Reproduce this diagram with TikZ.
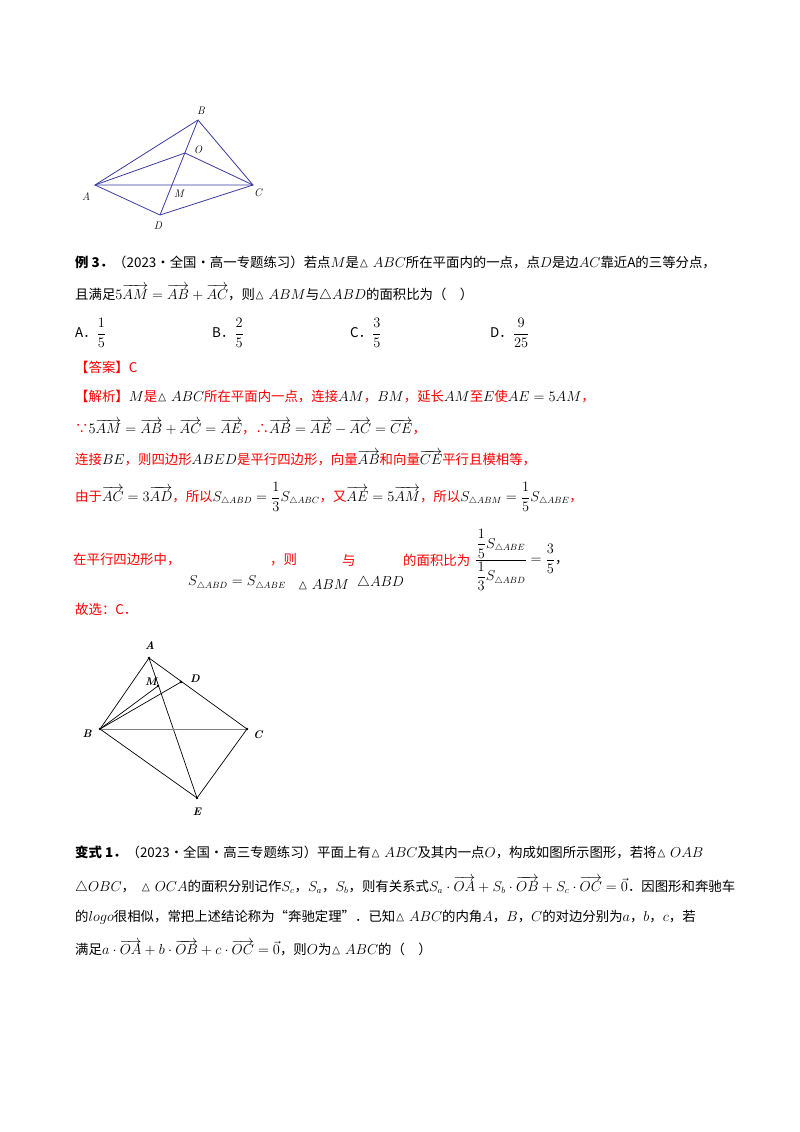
\documentclass[tikz,border=0pt]{standalone}
\usepackage{fontspec}
\usepackage{amsmath,amssymb}
\newfontfamily\cjk{Noto Sans CJK SC}
\definecolor{fig}{HTML}{3A3AA0}
\definecolor{ans}{HTML}{FF0000}
\tikzset{ln/.style={anchor=west,inner sep=0pt,font=\cjk\fontsize{13.4}{15}\selectfont},
 lbl/.style={font=\itshape\fontsize{11}{12}\selectfont,inner sep=0pt},
 blbl/.style={font=\bfseries\itshape\fontsize{11}{12}\selectfont,inner sep=0pt},
 red/.style={text=ans}}
\begin{document}
\begin{tikzpicture}[x=1pt,y=-1pt]
\useasboundingbox[fill=white] (0,0) rectangle (800,1132);
% figure 1
\begin{scope}[draw=fig,line width=0.8pt]
\coordinate (A) at (95,185); \coordinate (B) at (198,120); \coordinate (C) at (253,185);
\coordinate (O) at (185,153); \coordinate (M) at (172,185); \coordinate (D) at (160,215);
\draw (A)--(B)--(C)--cycle; \draw (A)--(O)--(C); \draw (B)--(D); \draw (A)--(D)--(C);
\end{scope}
\node[lbl] at (201,111) {B}; \node[lbl] at (198,150) {O}; \node[lbl] at (86,197) {A};
\node[lbl] at (179,194) {M}; \node[lbl] at (258,193) {C}; \node[lbl] at (158,226) {D};
% text
\node[ln] (l1) at (75,262) {\textbf{例 3．}（2023·全国·高一专题练习）若点$M$是$\vartriangle ABC$所在平面内的一点，点$D$是边$AC$靠近A的三等分点，};
\node[ln] (l2) at (75,293) {且满足$5\overrightarrow{AM}=\overrightarrow{AB}+\overrightarrow{AC}$，则$\vartriangle ABM$与$\triangle ABD$的面积比为（\quad）};
\node[ln] (oa) at (75,333) {A．$\dfrac{1}{5}$};
\node[ln] (ob) at (212,333) {B．$\dfrac{2}{5}$};
\node[ln] (oc) at (350,333) {C．$\dfrac{3}{5}$};
\node[ln] (od) at (490,333) {D．$\dfrac{9}{25}$};
\node[ln,red] (a1) at (75,367) {【答案】C};
\node[ln,red] (a2) at (75,397) {【解析】{\color{black}$M$}是{\color{black}$\vartriangle ABC$}所在平面内一点，连接{\color{black}$AM$}，{\color{black}$BM$}，延长{\color{black}$AM$}至{\color{black}$E$}使{\color{black}$AE=5AM$}，};
\node[ln,red] (a3) at (75,427) {∵{\color{black}$5\overrightarrow{AM}=\overrightarrow{AB}+\overrightarrow{AC}=\overrightarrow{AE}$}，∴{\color{black}$\overrightarrow{AB}=\overrightarrow{AE}-\overrightarrow{AC}=\overrightarrow{CE}$}，};
\node[ln,red] (a4) at (75,458) {连接{\color{black}$BE$}，则四边形{\color{black}$ABED$}是平行四边形，向量{\color{black}$\overrightarrow{AB}$}和向量{\color{black}$\overrightarrow{CE}$}平行且模相等，};
\node[ln,red] (a5) at (75,497) {由于{\color{black}$\overrightarrow{AC}=3\overrightarrow{AD}$}，所以{\color{black}$S_{\triangle ABD}=\dfrac13 S_{\triangle ABC}$}，又{\color{black}$\overrightarrow{AE}=5\overrightarrow{AM}$}，所以{\color{black}$S_{\triangle ABM}=\dfrac15 S_{\triangle ABE}$}，};
\node[ln,red] (a6) at (73,560) {在平行四边形中，};
\node[ln,red] (a6b) at (270,560) {，则};
\node[ln,red] (a6c) at (342,560) {与};
\node[ln,red] (a6d) at (403,560) {的面积比为};
\node[ln] (a6f) at (475,560) {$\dfrac{\dfrac15 S_{\triangle ABE}}{\dfrac13 S_{\triangle ABD}}=\dfrac35$，};
\node[ln] (a6m) at (188,583) {$S_{\triangle ABD}=S_{\triangle ABE}$};
\node[ln] (a6n) at (298,585) {$\vartriangle ABM$};
\node[ln] (a6o) at (357,583) {$\triangle ABD$};
\node[ln,red] (a7) at (75,609) {故选：C．};
% figure 2
\begin{scope}[line width=0.7pt]
\coordinate (A2) at (149,658); \coordinate (B2) at (100,729); \coordinate (C2) at (247,729);
\coordinate (D2) at (181,682); \coordinate (M2) at (158,686); \coordinate (E2) at (197,798);
\draw (A2)--(B2)--(E2)--(C2)--cycle; \draw (A2)--(E2); \draw (B2)--(M2); \draw (B2)--(D2);
\draw[gray,line width=1pt] (B2)--(C2);
\foreach \p in {A2,B2,C2,D2,M2,E2} \fill (\p) circle (1.3pt);
\end{scope}
\node[blbl] at (150,646) {A}; \node[blbl] at (87,734) {B}; \node[blbl] at (258,735) {C};
\node[blbl] at (195,679) {D}; \node[blbl] at (151,682) {M}; \node[blbl] at (197,812) {E};
% variant
\node[ln] (v1) at (75,852) {\textbf{变式 1．}（2023·全国·高三专题练习）平面上有$\vartriangle ABC$及其内一点$O$，构成如图所示图形，若将$\vartriangle OAB$};
\node[ln] (v2) at (75,885) {$\triangle OBC$，\ \ $\vartriangle OCA$的面积分别记作$S_c$，$S_a$，$S_b$，则有关系式$S_a\cdot\overrightarrow{OA}+S_b\cdot\overrightarrow{OB}+S_c\cdot\overrightarrow{OC}=\vec 0$．因图形和奔驰车};
\node[ln] (v3) at (75,917) {的$logo$很相似，常把上述结论称为“奔驰定理”．已知$\vartriangle ABC$的内角$A$，$B$，$C$的对边分别为$a$，$b$，$c$，若};
\node[ln] (v4) at (75,948) {满足$a\cdot\overrightarrow{OA}+b\cdot\overrightarrow{OB}+c\cdot\overrightarrow{OC}=\vec 0$，则$O$为$\vartriangle ABC$的（\quad）};
\end{tikzpicture}
\end{document}
